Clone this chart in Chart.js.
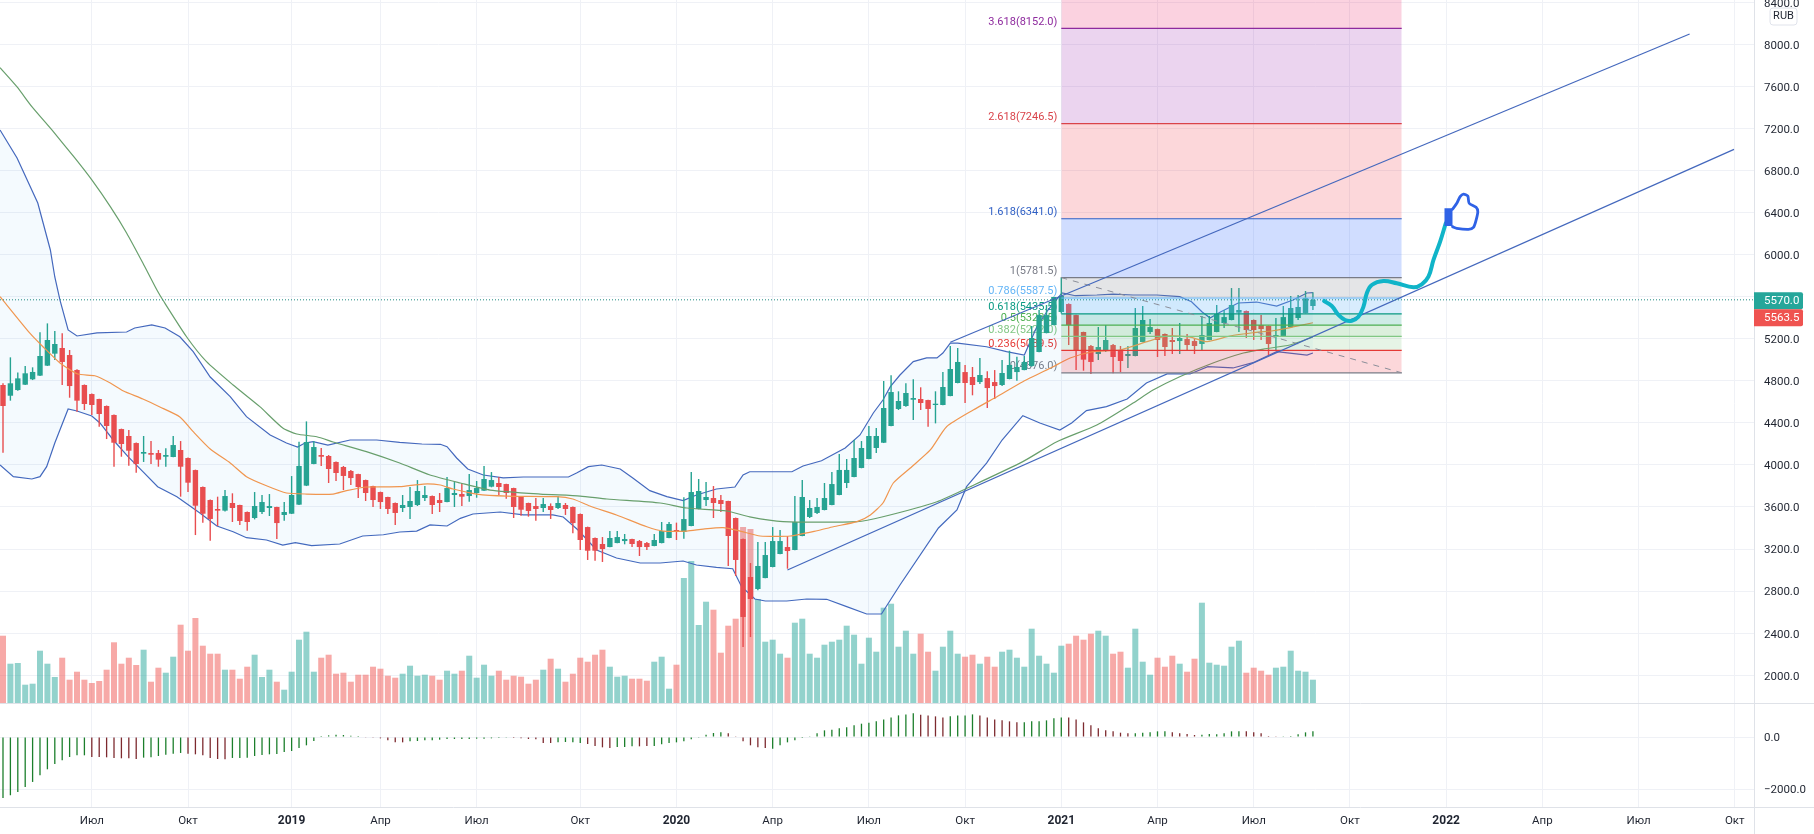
<!DOCTYPE html>
<html>
<head>
<meta charset="utf-8">
<title>RUB weekly</title>
<script src="https://cdn.jsdelivr.net/npm/chart.js@4"></script>
<style>
  html, body { margin: 0; padding: 0; background: #fff; overflow: hidden; }
  canvas { display: block; }
</style>
</head>
<body>
<canvas id="priceChart" width="1814" height="834"></canvas>
<script>
// weekly candles, index 0 = first visible week
const opens = [4760,4658,4712,4763,4814,4849,4944,5058,5112,5045,4903,4760,4674,4627,4560,4475,4341,4275,4208,4107,4113,4113,4078,4075,4142,4066,3951,3790,3666,3581,3565,3638,3619,3552,3495,3552,3590,3600,3524,3536,3622,3803,4009,4094,4085,4028,3980,3942,3913,3856,3799,3742,3695,3638,3590,3600,3619,3685,3704,3666,3647,3714,3723,3704,3733,3755,3793,3828,3818,3780,3695,3638,3609,3590,3609,3590,3619,3600,3533,3409,3305,3248,3219,3257,3276,3295,3276,3257,3229,3257,3305,3381,3362,3419,3581,3666,3685,3666,3657,3495,3295,2934,2820,2924,3029,3153,3219,3191,3324,3505,3543,3571,3619,3714,3828,3885,3971,4056,4161,4211,4370,4532,4560,4620,4627,4617,4570,4570,4655,4779,4883,4836,4788,4826,4788,4760,4817,4883,4902,4941,5074,5254,5330,5454,5530,5425,5264,5131,5055,5083,5140,5093,5036,5036,5169,5264,5292,5245,5188,5178,5197,5178,5150,5188,5264,5349,5378,5448,5464,5378,5330,5321,5223,5226,5311,5397,5445,5511];
const highs = [4776,5023,4880,4941,4928,5261,5346,5273,5251,5093,4910,4765,4680,4630,4565,4480,4345,4332,4212,4275,4227,4142,4158,4275,4227,4070,3955,3795,3670,3698,3761,3730,3622,3556,3742,3714,3723,3603,3647,3894,4221,4414,4224,4161,4094,4032,3990,3951,3917,3860,3803,3746,3698,3642,3714,3790,3856,3799,3708,3733,3885,3837,3825,3913,3847,3990,3932,3885,3821,3783,3698,3641,3685,3685,3634,3704,3638,3604,3537,3413,3309,3314,3371,3371,3343,3298,3286,3267,3343,3457,3457,3451,3692,3932,3866,3837,3799,3714,3660,3499,3299,3067,3267,3267,3409,3381,3324,3704,3856,3666,3685,3828,3932,4104,4056,4237,4227,4370,4351,4798,4852,4700,4776,4814,4738,4620,4700,4883,5131,5112,4950,4931,5017,4890,4902,4998,5086,5029,5036,5321,5473,5521,5600,5784,5536,5428,5267,5140,5311,5330,5150,5131,5131,5492,5511,5387,5296,5249,5302,5349,5245,5207,5416,5416,5521,5473,5682,5682,5468,5382,5425,5325,5397,5511,5606,5616,5654,5641];
const lows = [4116,4611,4706,4760,4807,4845,4941,4998,4760,4639,4506,4522,4475,4364,4246,3983,4078,3993,3926,4028,4009,3983,3983,4072,3698,3742,3333,3451,3279,3419,3558,3457,3428,3375,3482,3533,3514,3295,3470,3533,3619,3799,4006,3990,3828,3847,3761,3809,3685,3657,3600,3581,3533,3428,3552,3486,3609,3657,3533,3552,3644,3600,3609,3650,3688,3752,3787,3714,3679,3495,3517,3508,3470,3552,3486,3581,3524,3349,3191,3096,3089,3077,3216,3254,3245,3219,3134,3191,3226,3254,3302,3286,3298,3416,3578,3609,3495,3552,3039,2944,2268,2363,2807,2921,3026,3150,3013,3188,3321,3495,3533,3568,3616,3711,3780,3882,3968,4053,4113,4208,4367,4522,4554,4427,4522,4364,4395,4567,4652,4776,4589,4662,4769,4541,4627,4750,4814,4801,4900,4934,5071,5251,5327,5441,5140,4902,4896,4864,4998,5074,4871,4883,4921,5033,5166,5245,5026,5036,5055,5055,5093,5055,5093,5185,5261,5302,5375,5264,5207,5188,5188,5045,5093,5223,5308,5378,5442,5473];
const closes = [4560,4776,4823,4871,4884,5036,5188,5150,4979,4750,4611,4579,4570,4484,4370,4211,4199,4135,4009,4123,4097,4050,4094,4189,3983,3831,3612,3536,3486,3565,3704,3590,3467,3457,3609,3647,3609,3447,3552,3714,3990,4218,4170,4078,3961,3923,3895,3875,3790,3733,3666,3647,3581,3543,3619,3657,3752,3714,3619,3638,3780,3733,3698,3761,3780,3866,3856,3790,3733,3600,3574,3562,3581,3628,3571,3638,3581,3447,3286,3184,3184,3200,3305,3314,3295,3248,3219,3219,3286,3371,3438,3362,3485,3742,3752,3695,3638,3628,3324,3096,2554,2725,3039,3143,3276,3276,3181,3457,3695,3590,3600,3685,3818,3952,3952,4066,4161,4275,4275,4541,4693,4608,4684,4636,4589,4532,4582,4741,4912,4979,4779,4760,4855,4731,4750,4874,4950,4931,4979,5207,5425,5425,5597,5606,5330,5090,5001,4979,5121,5188,5026,4988,5055,5302,5378,5311,5188,5121,5169,5207,5140,5131,5235,5349,5435,5406,5521,5473,5283,5283,5292,5150,5235,5406,5492,5502,5587,5570];
const volumes = [673,393,400,183,193,523,393,260,453,233,313,233,200,220,333,607,393,453,380,533,213,353,303,463,783,523,850,573,493,493,333,333,243,363,483,260,333,213,133,313,633,713,313,453,483,293,303,213,283,283,363,343,273,253,293,373,273,283,273,233,323,293,323,473,253,383,273,323,233,273,263,193,233,333,443,343,213,293,453,413,483,533,363,263,273,243,243,223,413,463,143,383,1250,1420,780,1013,933,503,773,843,1760,1740,1040,613,633,493,453,803,843,493,453,583,613,633,773,683,393,653,513,953,993,563,723,493,693,513,323,563,723,493,463,483,393,463,363,513,533,453,363,743,473,393,303,573,593,673,633,693,723,673,493,513,353,743,413,283,453,363,473,393,313,443,1003,403,383,373,563,623,303,353,323,283,353,363,523,323,313,233];
const macdHist = [-2342,-2240,-2112,-1920,-1728,-1472,-1242,-1037,-896,-768,-704,-704,-768,-768,-781,-806,-819,-819,-845,-794,-781,-730,-678,-640,-614,-640,-666,-704,-806,-845,-858,-806,-806,-794,-730,-691,-666,-653,-576,-538,-422,-320,-154,38,64,90,77,51,38,-13,-26,-51,-128,-205,-205,-166,-154,-128,-128,-102,-77,-77,-77,-77,-64,-64,-51,-38,-26,-38,-51,-77,-90,-230,-230,-205,-192,-205,-230,-269,-346,-397,-422,-384,-384,-358,-358,-346,-346,-282,-230,-205,-166,-90,-26,90,154,179,141,26,-166,-320,-397,-422,-448,-320,-205,-128,-38,26,141,256,282,333,371,448,512,550,602,678,755,832,870,909,858,832,794,755,794,832,832,870,832,755,678,640,602,563,563,602,602,640,717,755,755,678,563,448,333,256,218,166,141,141,166,179,218,218,179,141,115,77,90,115,102,141,218,218,218,179,141,38,13,13,38,102,179,218];
// weeks where the histogram is drawn in the dark red colour
const macdRedWeeks = [12,13,14,15,16,17,18,25,26,27,28,29,30,49,50,51,52,53,54,69,70,71,72,73,74,79,80,81,82,86,87,98,99,100,101,102,103,124,125,126,127,132,133,134,135,136,137,144,145,146,147,148,149,150,151,152,158,159,160,161,168,169,170,171,172];

const bbUpperWeeks = [-0.4,1.9,4.7,6.4,7,7.7,8.8,10,12.7,16.7,17.8,20.1,21.9,23.9,25.7,28,30.7,32.9,36.1,38.3,39.8,40.8,41.9,43.9,46.9,50.5,53.6,56.6,59.1,60,61.3,62.8,64.9,67.6,70.3,73.9,76.4,77.5,79.1,80.9,83.4,85.1,87.4,89.7,91.9,93.7,96.4,98.9,100,100.9,106.6,108.1,110.6,113.8,115.8,117.6,118.9,119.9,121.2,123,124.8,126.2,127,128,129,132.9,135.6,138,139.7,141.2,143.1,144.9,147.8,150,152.7,155.9,159,160.6,162,163.1,164.5,166.9,169.4,172.1,174.3,176.2,177];
const bbUpperValues = [7185,6919,6491,6044,5787,5568,5283,5226,5255,5264,5302,5331,5302,5219,5077,4836,4649,4459,4285,4208,4170,4208,4221,4189,4237,4237,4215,4199,4196,4173,4066,3961,3904,3876,3885,3885,3885,3923,3983,3999,3961,3876,3755,3698,3660,3714,3771,3790,3904,3935,3935,3990,4040,4161,4285,4494,4617,4744,4855,4982,5017,5017,5064,5159,5159,5124,5077,5045,5314,5473,5635,5609,5616,5625,5616,5616,5600,5552,5457,5397,5454,5540,5549,5511,5568,5635,5638];
const bbLowerWeeks = [-0.4,1.4,3.9,5,5.9,7,8.8,10,12,13.1,14.9,16.9,18.9,20.9,23.5,26.6,28.9,31.1,32.9,35.6,37.8,39.5,41.7,45.5,48.6,51.4,53.6,55.9,57.7,60,61.8,63.5,67.2,70.3,74.3,75.7,77.7,80.2,82.9,86.1,88.8,91.9,93.7,96.4,98.6,99.8,101.6,103,105.9,108.6,111.3,114,116.7,118.7,121.2,126.4,128.9,130.2,132.9,135,137.8,140.1,142.8,144.4,146.4,149.1,151.9,154.5,157.3,160.4,162.8,166.2,168.9,172.1,176.2,177];
const bbLowerValues = [4000,3888,3866,3888,3983,4208,4532,4513,4465,4399,4237,4078,3936,3793,3698,3543,3419,3365,3308,3286,3238,3260,3232,3248,3324,3336,3362,3371,3429,3419,3492,3533,3552,3524,3524,3505,3381,3191,3115,3067,3067,3086,3048,3026,3013,2842,2725,2706,2706,2725,2722,2652,2582,2582,2858,3400,3571,3793,4018,4237,4468,4399,4332,4399,4516,4554,4627,4779,4865,4865,4934,4922,4972,5077,5045,5064];
const maFastWeeks = [-0.4,3.6,5.4,7.7,10.1,12.4,14.5,16.2,18.9,21.2,23.9,25.7,28,30.7,32.9,35.6,38.3,41,44.6,46.4,49.1,53.6,56.8,59.1,60.8,64,68.1,74.8,77,79.3,82.9,87,89.2,92.4,94.6,97.3,99.6,102.3,106.4,110,112.2,115.4,117.2,118.9,120.3,122.8,125.3,127.5,131.1,134.3,137.8,141.9,144.2,147.3,150.9,154.6,157.3,160.4,162.7,165.8,168.9,171.6,174.3,177];
const maFastValues = [5600,5255,5124,4969,4864,4848,4779,4706,4627,4551,4456,4316,4151,4018,3888,3802,3733,3723,3723,3755,3790,3793,3818,3809,3771,3723,3704,3698,3676,3609,3524,3412,3371,3371,3390,3403,3371,3324,3324,3374,3412,3460,3524,3638,3828,3983,4142,4363,4522,4649,4791,4934,5017,5077,5093,5172,5226,5216,5172,5226,5257,5276,5312,5352];
const maSlowWeeks = [-0.4,1.9,3.9,6.8,9.7,12,14.5,16.7,18.9,20.8,21.6,24.8,27.5,31.1,34.7,37.8,39.7,42.4,44.6,49.1,53.6,57.7,61.8,65.8,72.6,78,81.6,88.8,92.4,97.8,100.9,105.4,115.4,118.9,126.2,130.7,137.8,142.4,147.8,152.7,155.4,159,163.5,167.6,170.3,173.9,177];
const maSlowValues = [7777,7594,7407,7169,6919,6710,6456,6206,5920,5663,5568,5219,4982,4760,4554,4351,4294,4268,4218,4126,4018,3904,3828,3761,3723,3704,3676,3638,3590,3562,3505,3460,3460,3507,3650,3793,4031,4221,4380,4589,4712,4839,4969,5064,5102,5140,5217];

// drawings
const fibStartWeek = 143;
const fibEndWeek = 189;
const fibRatios = ['4.236','3.618','2.618','1.618','1','0.786','0.618','0.5','0.382','0.236','0'];
const fibPrices = [8711,8152,7246.5,6341,5781.5,5587.5,5435.5,5328.5,5222,5089.5,4876];
const fibLineColors = ['#e91e63','#8e2a9e','#d9434a','#2f5fc4','#787b86','#64b5f6','#089981','#4caf50','#81c784','#e53935','#787b86'];
const fibFillColors = ['rgba(233,30,99,.2)','rgba(156,39,176,.2)','rgba(242,54,69,.2)','rgba(41,98,255,.22)','rgba(120,123,134,.2)','rgba(100,181,246,.25)','rgba(8,153,129,.2)','rgba(76,175,80,.2)','rgba(129,199,132,.2)','rgba(242,54,69,.2)'];
const trendLowerWeeks = [106,233.9];
const trendLowerValues = [3000,7001];
const trendUpperWeeks = [128,227.9];
const trendUpperValues = [5166,8098];
const brushWeeks = [178.51,179.55,180.45,181.35,182.25,183.15,183.83,184.28,184.95,186.53,188.33,190.59,191.71,192.61,193.29,194.19,194.95];
const brushValues = [5559,5511,5426,5378,5371,5409,5505,5632,5711,5749,5727,5689,5718,5790,5949,6123,6298];
const thumbWeeks = [195.86,196.44,196.89,197.34,197.93,198.11,199.05,199.28,199.05,198.69,198.02,196.44,195.86];
const thumbValues = [6431,6488,6551,6576,6557,6488,6450,6408,6329,6259,6240,6250,6266];
const cuffWeeks = [195.32,195.32];
const cuffValues = [6440,6272];

const lastPrice = 5570;
const secondPrice = 5563.5;
const currencyLabel = 'RUB';

// axes
const priceTicks = [2000,2400,2800,3200,3600,4000,4400,4800,5200,5600,6000,6400,6800,7200,7600,8000,8400];
const macdTicks = [-2000,0];
const timeTickWeeks = [12,25,39,51,64,78,91,104,117,130,143,156,169,182,195,208,221,234];
const timeTickLabels = ['Июл','Окт','2019','Апр','Июл','Окт','2020','Апр','Июл','Окт','2021','Апр','Июл','Окт','2022','Апр','Июл','Окт'];
const yearLabels = ['2019','2020','2021','2022'];

const upColor = '#26a392';
const downColor = '#e84d4f';
const gridColor = '#eff1f6';
const lineColor = '#dfe2e8';
const textColor = '#1f2430';
const axisFont = 'Roboto, "Liberation Sans", sans-serif';

const weeks = opens.map((o, i) => i);
const candleColors = opens.map((o, i) => closes[i] >= o ? upColor : downColor);
const volumeColors = opens.map((o, i) => closes[i] >= o ? 'rgba(38,166,154,.5)' : 'rgba(239,83,80,.5)');
const macdColors = weeks.map(i => macdRedWeeks.includes(i) ? '#7d2a2f' : '#1c7f2c');

function zip(xs, ys) {
    return xs.map((x, i) => ({ x: x, y: ys[i] }));
}

function lineSet(data, color, width, order, extra) {
    return Object.assign({
        type: 'line',
        data: data,
        borderColor: color,
        borderWidth: width,
        pointRadius: 0,
        fill: false,
        tension: 0,
        order: order,
        yAxisID: 'y',
        xAxisID: 'x'
    }, extra || {});
}

// zones first, the level lines go on top of them
function fibDatasets() {
    const sets = [];
    fibPrices.forEach((price, i) => {
        const points = zip([fibStartWeek, fibEndWeek], [price, price]);
        if (i < fibPrices.length - 1) {
            sets.push(lineSet(points, 'transparent', 0, 21, {
                fill: { value: fibPrices[i + 1] },
                backgroundColor: fibFillColors[i]
            }));
        }
        sets.push(lineSet(points, fibLineColors[i], 1.2, 20));
    });
    return sets;
}

// keep the plot flush with the canvas edges, labels may clip like on the platform
function fitRightAxis(scale) {
    scale.width = 60;
    scale.paddingTop = 0;
    scale.paddingBottom = 0;
}

// text and boxes the library has no element for
const overlayPlugin = {
    id: 'overlay',
    beforeDatasetsDraw(chart) {
        const ctx = chart.ctx;
        const x = chart.scales.x.getPixelForValue(fibStartWeek) - 4;
        ctx.save();
        ctx.font = '11px ' + axisFont;
        ctx.textAlign = 'right';
        ctx.textBaseline = 'bottom';
        fibPrices.forEach((price, i) => {
            if (i === 0) return;
            const txt = fibRatios[i] + '(' + price.toFixed(1) + ')';
            ctx.fillStyle = fibLineColors[i];
            ctx.fillText(txt, x, chart.scales.y.getPixelForValue(price) - 1);
        });
        ctx.restore();
    },
    afterDraw(chart) {
        const ctx = chart.ctx;
        const y = chart.scales.y;
        const area = chart.chartArea;
        const w = chart.width;
        const h = chart.height;
        ctx.save();
        ctx.strokeStyle = lineColor;
        ctx.lineWidth = 1;
        ctx.beginPath();
        ctx.moveTo(0, y.bottom + 0.5); ctx.lineTo(w, y.bottom + 0.5);
        ctx.moveTo(0, area.bottom + 0.5); ctx.lineTo(w, area.bottom + 0.5);
        ctx.moveTo(area.right + 0.5, 0); ctx.lineTo(area.right + 0.5, h);
        ctx.stroke();

        // last price boxes, the second sits under the first like on the platform
        const boxH = 17;
        const top = y.getPixelForValue(lastPrice) - boxH / 2 + 1;
        const boxes = [[lastPrice, '#26a69a', top], [secondPrice, '#ef5350', top + boxH]];
        boxes.forEach(b => {
            ctx.fillStyle = b[1];
            ctx.beginPath();
            ctx.roundRect(area.right, b[2], 49, boxH, [0, 2, 2, 0]);
            ctx.fill();
            ctx.fillStyle = '#fff';
            ctx.font = '11.5px ' + axisFont;
            ctx.textAlign = 'left';
            ctx.textBaseline = 'middle';
            ctx.fillText(b[0].toFixed(1), area.right + 10, b[2] + boxH / 2 + 0.5);
        });

        ctx.strokeStyle = '#e0e3eb';
        ctx.fillStyle = '#fff';
        ctx.beginPath();
        ctx.roundRect(area.right + 16, 8, 27, 17, 3);
        ctx.fill();
        ctx.stroke();
        ctx.fillStyle = textColor;
        ctx.font = '11px ' + axisFont;
        ctx.textAlign = 'center';
        ctx.textBaseline = 'middle';
        ctx.fillText(currencyLabel, area.right + 29.5, 16.5);
        ctx.restore();
    }
};

const datasets = [
    { type: 'bar', label: 'Volume', yAxisID: 'vol', order: 70, barThickness: 6, inflateAmount: 0,
      data: zip(weeks, volumes), backgroundColor: volumeColors },
    lineSet(zip(bbUpperWeeks, bbUpperValues), '#4468bd', 1.2, 60, { fill: '+1', backgroundColor: 'rgba(33,150,243,.05)' }),
    lineSet(zip(bbLowerWeeks, bbLowerValues), '#4468bd', 1.2, 60),
    { type: 'bar', label: 'Wicks', yAxisID: 'y', order: 50, barThickness: 1.4, inflateAmount: 0,
      data: weeks.map(i => ({ x: i, y: [lows[i], highs[i]] })), backgroundColor: candleColors },
    { type: 'bar', label: 'Candles', yAxisID: 'y', order: 49, barThickness: 5.4, inflateAmount: 0,
      data: weeks.map(i => ({ x: i, y: [opens[i], closes[i]] })), backgroundColor: candleColors },
    lineSet(zip(maFastWeeks, maFastValues), '#f0964f', 1.2, 40, { tension: 0.2 }),
    lineSet(zip(maSlowWeeks, maSlowValues), '#689f6c', 1.2, 40, { tension: 0.2 }),
    ...fibDatasets(),
    lineSet(zip([fibStartWeek, fibEndWeek], [fibPrices[4], fibPrices[10]]), '#8a8d98', 1, 19, { borderDash: [6, 6] }),
    lineSet(zip(trendLowerWeeks, trendLowerValues), '#4468bd', 1.2, 15),
    lineSet(zip(trendUpperWeeks, trendUpperValues), '#4468bd', 1.2, 15),
    lineSet(zip([-0.405, 236.6], [lastPrice, lastPrice]), '#1f8a80', 1, 14, { borderDash: [1, 2] }),
    lineSet(zip(brushWeeks, brushValues), '#10b4c8', 4, 5, { tension: 0.4, borderCapStyle: 'round' }),
    lineSet(zip(thumbWeeks, thumbValues), '#2f62e6', 2.8, 4, { tension: 0.25, borderCapStyle: 'round' }),
    lineSet(zip(cuffWeeks, cuffValues), '#2f62e6', 8, 3),
    { type: 'bar', label: 'MACD', yAxisID: 'macd', order: 30, barThickness: 1.3, inflateAmount: 0,
      data: zip(weeks, macdHist), backgroundColor: macdColors }
];

new Chart(document.getElementById('priceChart').getContext('2d'), {
    type: 'bar',
    data: { datasets: datasets },
    plugins: [overlayPlugin],
    options: {
        responsive: false,
        animation: false,
        events: [],
        layout: { padding: 0 },
        datasets: { bar: { grouped: false, borderWidth: 0 } },
        plugins: { legend: { display: false }, tooltip: { enabled: false } },
        scales: {
            x: {
                type: 'linear',
                offset: false,
                min: -0.405,
                max: 236.6,
                afterBuildTicks: scale => { scale.ticks = timeTickWeeks.map(v => ({ value: v })); },
                afterFit: scale => { scale.height = 27; scale.paddingLeft = 0; scale.paddingRight = 0; },
                grid: { color: gridColor, drawTicks: false, offset: false },
                border: { display: false },
                ticks: {
                    autoSkip: false,
                    maxRotation: 0,
                    padding: 7,
                    color: textColor,
                    font: ctx => {
                        const i = timeTickWeeks.indexOf(ctx.tick ? ctx.tick.value : -1);
                        const isYear = yearLabels.includes(timeTickLabels[i]);
                        return { family: axisFont, size: isYear ? 12 : 11.5, weight: isYear ? 'bold' : 'normal' };
                    },
                    callback: value => timeTickLabels[timeTickWeeks.indexOf(value)]
                }
            },
            y: {
                position: 'right',
                stack: 'panes',
                stackWeight: 703,
                weight: 0,
                min: 1735.8,
                max: 8421.3,
                afterBuildTicks: scale => { scale.ticks = priceTicks.map(v => ({ value: v })); },
                afterFit: fitRightAxis,
                grid: { color: gridColor, drawTicks: false },
                border: { display: false },
                ticks: {
                    autoSkip: false,
                    crossAlign: 'near',
                    padding: 10,
                    labelOffset: 1.5,
                    color: textColor,
                    font: { family: axisFont, size: 11.5 },
                    callback: value => value.toFixed(1)
                }
            },
            macd: {
                position: 'right',
                stack: 'panes',
                stackWeight: 104,
                weight: 1,
                min: -2692,
                max: 1308,
                afterBuildTicks: scale => { scale.ticks = macdTicks.map(v => ({ value: v })); },
                afterFit: fitRightAxis,
                grid: { color: gridColor, drawTicks: false },
                border: { display: false },
                ticks: {
                    autoSkip: false,
                    crossAlign: 'near',
                    padding: 10,
                    labelOffset: 1.5,
                    color: textColor,
                    font: { family: axisFont, size: 11.5 },
                    callback: value => (value < 0 ? '\u2212' + Math.abs(value).toFixed(1) : value.toFixed(1))
                }
            },
            // volume shares the price pane, 10 units to a pixel, base at the pane bottom
            vol: { position: 'right', display: false, min: -1040, max: 7030 }
        }
    }
});
</script>
</body>
</html>
